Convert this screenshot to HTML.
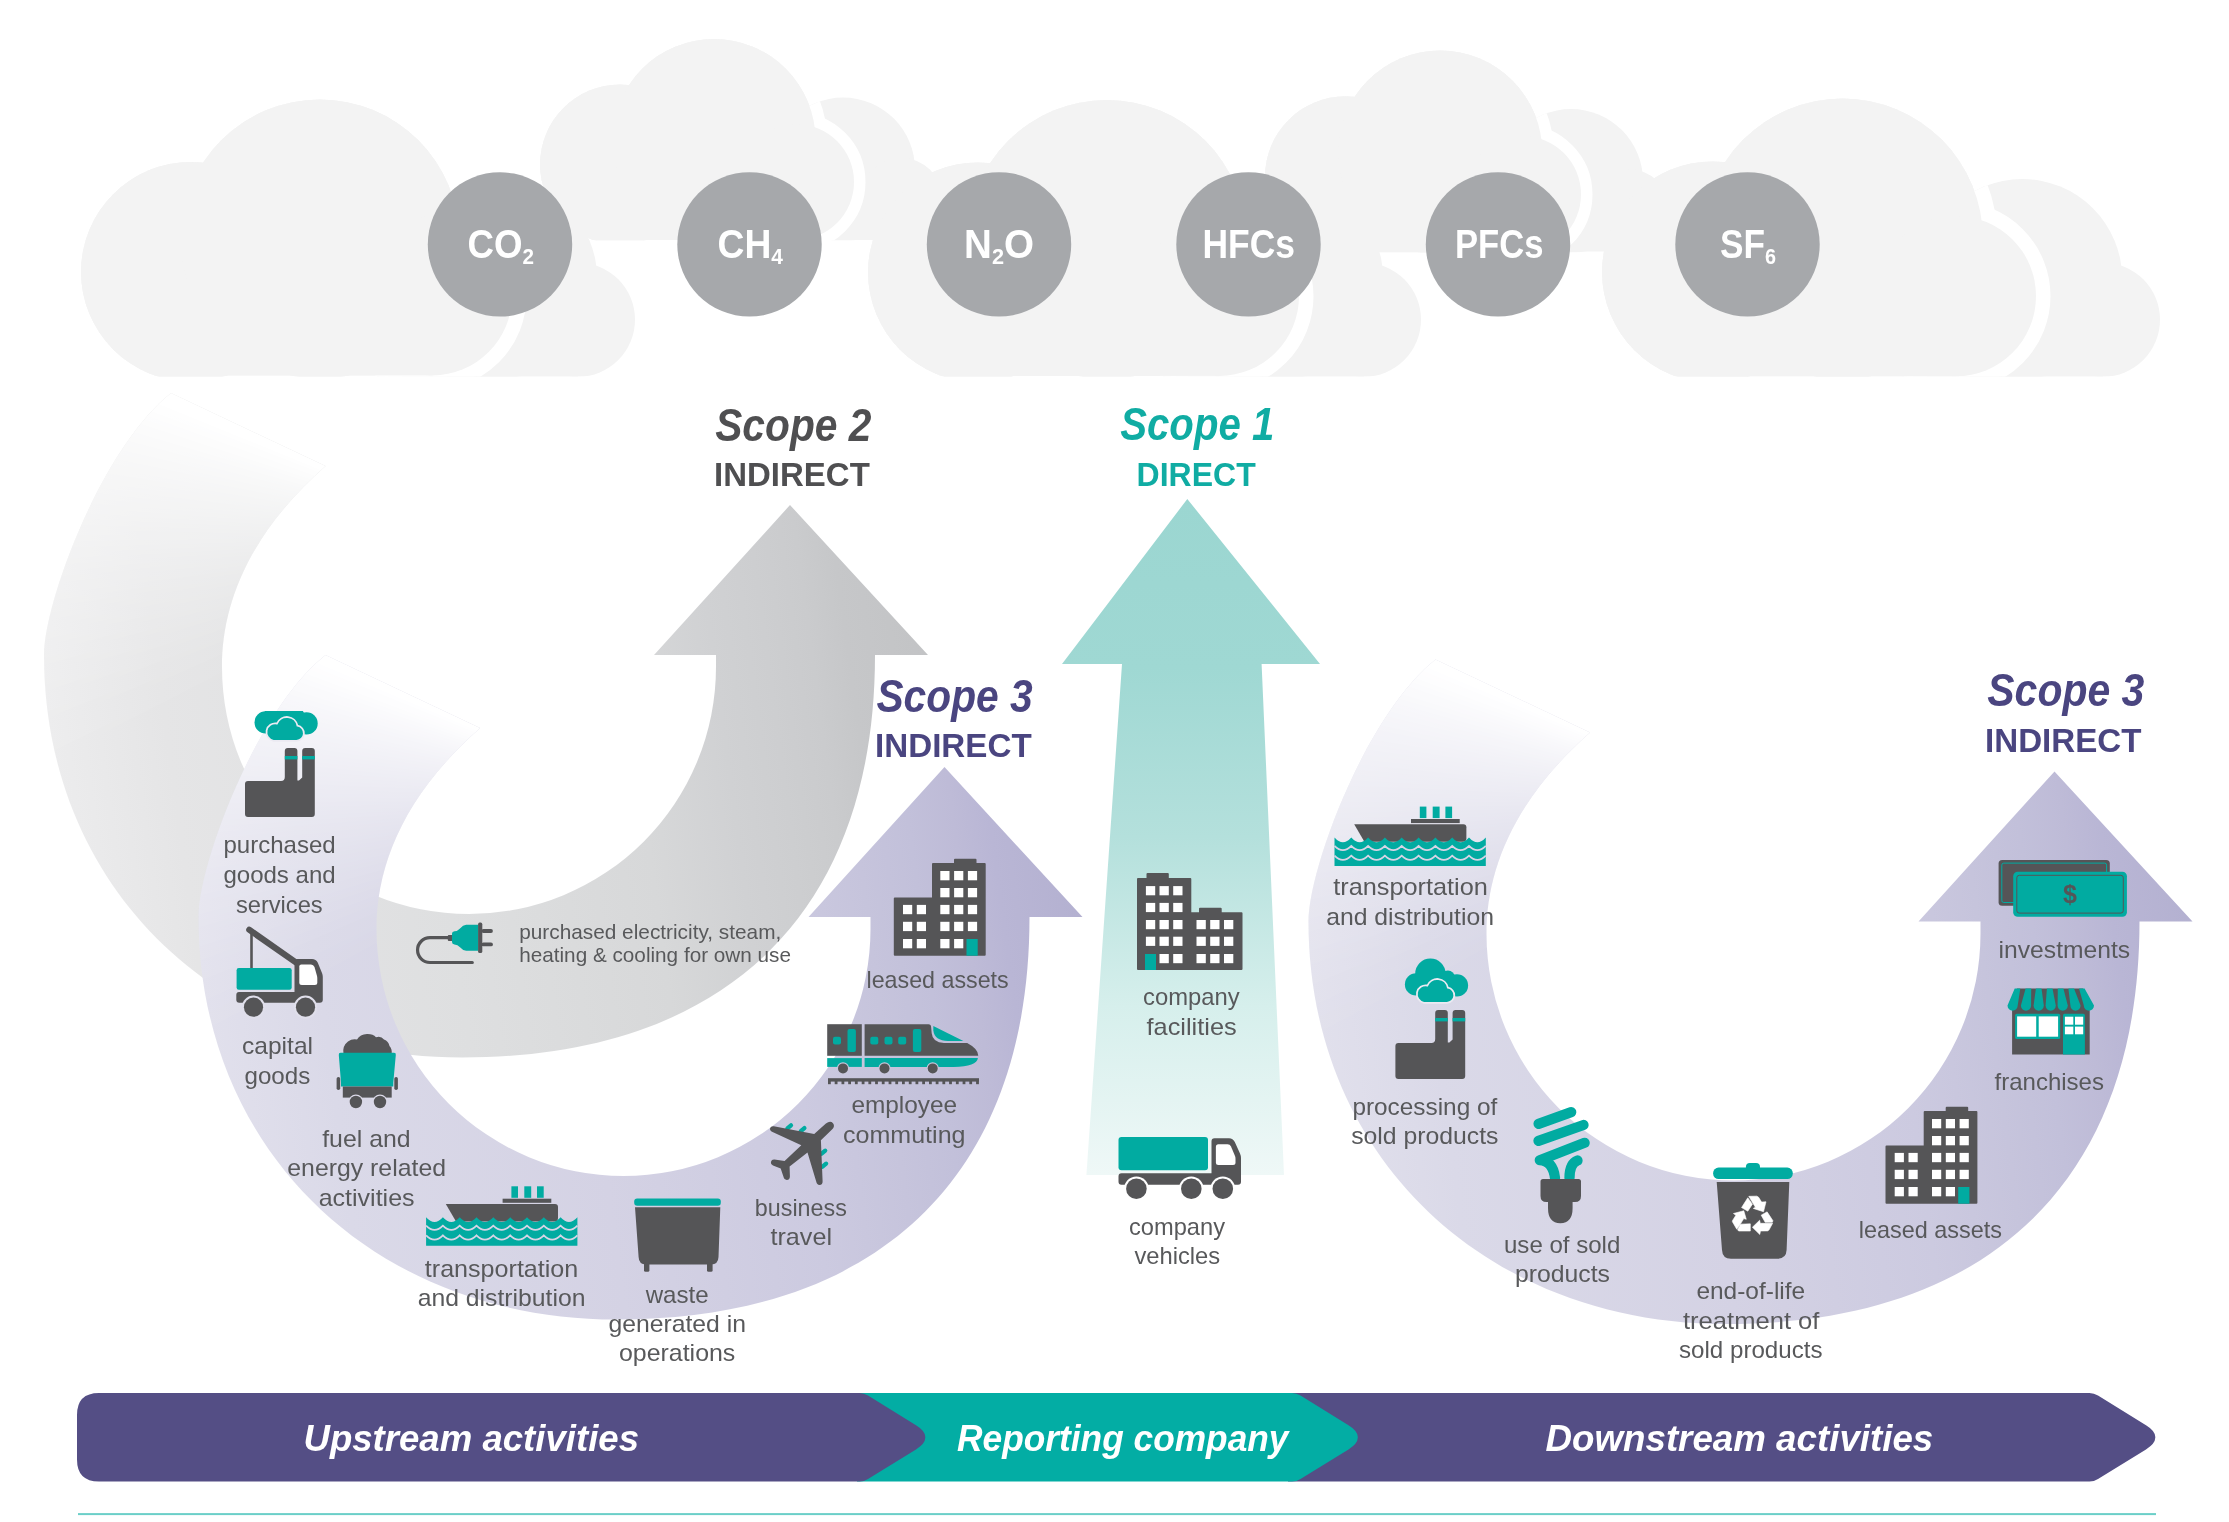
<!DOCTYPE html>
<html><head><meta charset="utf-8"><title>GHG Protocol scopes</title>
<style>html,body{margin:0;padding:0;background:#fff}svg{display:block;will-change:transform;opacity:0.9999}text{font-family:"Liberation Sans",sans-serif}</style></head><body>
<svg width="2229" height="1522" viewBox="0 0 2229 1522">
<defs><linearGradient id="gGray" gradientUnits="userSpaceOnUse" x1="45" y1="700" x2="928" y2="580"><stop offset="0" stop-color="#ececed"/><stop offset="0.13" stop-color="#e5e5e6"/><stop offset="0.42" stop-color="#dedfe0"/><stop offset="0.65" stop-color="#d7d8d9"/><stop offset="0.75" stop-color="#d0d1d3"/><stop offset="0.81" stop-color="#cdced0"/><stop offset="0.86" stop-color="#cacbcd"/><stop offset="0.9" stop-color="#c6c7c9"/><stop offset="1" stop-color="#c2c3c5"/></linearGradient><linearGradient id="gPurp" gradientUnits="userSpaceOnUse" x1="45" y1="700" x2="928" y2="580"><stop offset="0" stop-color="#e1e0ec"/><stop offset="0.13" stop-color="#dad9e8"/><stop offset="0.42" stop-color="#d4d2e4"/><stop offset="0.65" stop-color="#cccae0"/><stop offset="0.75" stop-color="#c6c4dc"/><stop offset="0.81" stop-color="#c2c0da"/><stop offset="0.86" stop-color="#bebbd7"/><stop offset="0.9" stop-color="#b9b6d5"/><stop offset="1" stop-color="#b3b0d0"/></linearGradient><path id="arc" d="M654 655 L790 505 L928 655 L875 655 C875.0 912.6 726.3 1057.5 462.0 1057.5 C220.0 1057.5 44.0 888.0 44.0 655.0 C44 603 100.7 449 171 393 L325.6 466 C250.4 532.4 222 602 222 667 A247 247 0 0 0 469 914 A247 247 0 0 0 716 667 L716 655 Z"/><clipPath id="cArc"><use href="#arc"/></clipPath><g id="fade" fill="#fff" opacity="0.999" style="isolation:isolate"><polygon points="484.0,537.0 -29.1,847.9 -82.6,734.5 -111.3,612.3 -113.9,486.9 -90.4,363.7 -41.9,248.1 29.7,145.1 121.1,59.2 228.4,-5.8 278.8,-26.8" fill-opacity="0.0076"/><polygon points="484.0,537.0 -33.4,840.9 -85.2,726.7 -112.2,604.2 -113.2,478.7 -88.0,355.9 -37.8,240.9 35.1,138.9 127.7,54.2 235.9,-9.3 278.8,-26.8" fill-opacity="0.0093"/><polygon points="484.0,537.0 -37.5,833.8 -87.8,718.8 -113.1,596.0 -112.3,470.6 -85.5,348.0 -33.7,233.8 40.6,132.8 134.4,49.4 243.4,-12.6 278.8,-26.8" fill-opacity="0.0101"/><polygon points="484.0,537.0 -41.5,826.6 -90.2,711.0 -113.8,587.8 -111.3,462.4 -82.8,340.2 -29.5,226.7 46.2,126.7 141.1,44.7 250.9,-15.9 278.8,-26.8" fill-opacity="0.0108"/><polygon points="484.0,537.0 -45.4,819.3 -92.6,703.1 -114.5,579.6 -110.3,454.2 -80.1,332.5 -25.2,219.7 51.9,120.7 147.9,40.0 258.5,-19.0 278.8,-26.8" fill-opacity="0.0113"/><polygon points="484.0,537.0 -49.2,812.1 -94.8,695.2 -115.0,571.4 -109.1,446.1 -77.2,324.8 -20.8,212.7 57.6,114.9 154.7,35.4 266.2,-22.1 278.8,-26.8" fill-opacity="0.0118"/><polygon points="484.0,537.0 -53.0,804.7 -96.9,687.2 -115.4,563.2 -107.8,438.0 -74.3,317.1 -16.3,205.8 63.5,109.0 161.6,31.0 273.9,-25.0 278.8,-26.8" fill-opacity="0.0122"/><polygon points="484.0,537.0 -56.6,797.3 -98.9,679.2 -115.7,554.9 -106.4,429.9 -71.2,309.5 -11.7,199.0 69.4,103.3 168.6,26.6 278.8,-26.8" fill-opacity="0.0126"/><polygon points="484.0,537.0 -60.1,789.9 -100.8,671.2 -115.9,546.7 -104.8,421.8 -68.0,301.9 -7.1,192.2 75.3,97.7 175.6,22.3 278.8,-26.8" fill-opacity="0.0131"/><polygon points="484.0,537.0 -63.5,782.4 -102.6,663.2 -116.0,538.5 -103.2,413.7 -64.7,294.3 -2.3,185.5 81.4,92.1 182.7,18.1 278.8,-26.8" fill-opacity="0.0134"/><polygon points="484.0,537.0 -66.8,774.9 -104.3,655.2 -116.0,530.3 -101.5,405.7 -61.4,286.8 2.6,178.9 87.5,86.6 189.8,14.1 278.8,-26.8" fill-opacity="0.0138"/><polygon points="484.0,537.0 -70.0,767.3 -105.8,647.1 -115.8,522.0 -99.6,397.7 -57.9,279.4 7.5,172.3 93.8,81.2 197.0,10.1 278.8,-26.8" fill-opacity="0.0142"/><polygon points="484.0,537.0 -73.1,759.7 -107.3,639.0 -115.6,513.8 -97.6,389.7 -54.3,272.0 12.6,165.8 100.0,75.9 204.3,6.2 278.8,-26.8" fill-opacity="0.0146"/><polygon points="484.0,537.0 -76.1,752.0 -108.6,630.9 -115.2,505.6 -95.6,381.7 -50.6,264.6 17.7,159.4 106.4,70.7 211.6,2.4 278.8,-26.8" fill-opacity="0.0150"/><polygon points="484.0,537.0 -79.0,744.3 -109.8,622.7 -114.7,497.4 -93.4,373.8 -46.8,257.3 22.9,153.0 112.8,65.6 219.0,-1.3 278.8,-26.8" fill-opacity="0.0154"/><polygon points="484.0,537.0 -81.8,736.6 -111.0,614.6 -114.1,489.2 -91.1,365.9 -42.9,250.0 28.2,146.8 119.3,60.5 226.4,-4.9 278.8,-26.8" fill-opacity="0.0158"/><polygon points="484.0,537.0 -84.5,728.8 -112.0,606.4 -113.4,481.0 -88.7,358.0 -38.9,242.8 33.6,140.5 125.9,55.6 233.8,-8.4 278.8,-26.8" fill-opacity="0.0162"/><polygon points="484.0,537.0 -87.1,721.0 -112.9,598.2 -112.6,472.8 -86.2,350.2 -34.9,235.7 39.1,134.4 132.5,50.7 241.3,-11.7 278.8,-26.8" fill-opacity="0.0166"/><polygon points="484.0,537.0 -89.6,713.1 -113.7,590.0 -111.6,464.6 -83.6,342.4 -30.7,228.6 44.7,128.3 139.2,45.9 248.9,-15.0 278.8,-26.8" fill-opacity="0.0170"/><polygon points="484.0,537.0 -91.9,705.3 -114.3,581.8 -110.6,456.5 -80.8,334.6 -26.4,221.6 50.3,122.4 146.0,41.3 256.5,-18.2 278.8,-26.8" fill-opacity="0.0175"/><polygon points="484.0,537.0 -94.2,697.3 -114.9,573.6 -109.4,448.3 -78.0,326.9 -22.0,214.6 56.0,116.5 152.8,36.7 264.1,-21.3 278.8,-26.8" fill-opacity="0.0179"/><polygon points="484.0,537.0 -96.3,689.4 -115.3,565.4 -108.1,440.2 -75.1,319.2 -17.6,207.7 61.9,110.6 159.7,32.2 271.8,-24.2 278.8,-26.8" fill-opacity="0.0184"/><polygon points="484.0,537.0 -98.4,681.4 -115.7,557.2 -106.8,432.1 -72.0,311.5 -13.0,200.9 67.7,104.9 166.7,27.8 278.8,-26.8" fill-opacity="0.0188"/><polygon points="484.0,537.0 -100.3,673.4 -115.9,549.0 -105.3,424.0 -68.9,303.9 -8.3,194.1 73.7,99.2 173.7,23.5 278.8,-26.8" fill-opacity="0.0193"/><polygon points="484.0,537.0 -102.1,665.4 -116.0,540.7 -103.7,415.9 -65.6,296.4 -3.6,187.4 79.8,93.6 180.8,19.3 278.8,-26.8" fill-opacity="0.0198"/><polygon points="484.0,537.0 -103.8,657.4 -116.0,532.5 -101.9,407.9 -62.3,288.9 1.2,180.7 85.9,88.1 187.9,15.2 278.8,-26.8" fill-opacity="0.0203"/><polygon points="484.0,537.0 -105.4,649.3 -115.9,524.3 -100.1,399.8 -58.8,281.4 6.2,174.1 92.1,82.7 195.1,11.1 278.8,-26.8" fill-opacity="0.0209"/><polygon points="484.0,537.0 -106.9,641.2 -115.6,516.1 -98.2,391.8 -55.3,274.0 11.2,167.6 98.3,77.4 202.3,7.2 278.8,-26.8" fill-opacity="0.0215"/><polygon points="484.0,537.0 -108.3,633.1 -115.3,507.8 -96.1,383.9 -51.6,266.6 16.3,161.2 104.7,72.1 209.6,3.4 278.8,-26.8" fill-opacity="0.0220"/><polygon points="484.0,537.0 -109.5,624.9 -114.8,499.6 -94.0,375.9 -47.9,259.3 21.5,154.8 111.1,67.0 217.0,-0.3 278.8,-26.8" fill-opacity="0.0227"/><polygon points="484.0,537.0 -110.7,616.8 -114.3,491.4 -91.7,368.0 -44.0,252.0 26.8,148.5 117.6,61.9 224.3,-3.9 278.8,-26.8" fill-opacity="0.0233"/><polygon points="484.0,537.0 -111.7,608.6 -113.6,483.2 -89.3,360.1 -40.0,244.8 32.2,142.2 124.1,56.9 231.8,-7.4 278.8,-26.8" fill-opacity="0.0240"/><polygon points="484.0,537.0 -112.6,600.5 -112.8,475.0 -86.9,352.3 -36.0,237.6 37.6,136.1 130.7,52.0 239.3,-10.8 278.8,-26.8" fill-opacity="0.0247"/><polygon points="484.0,537.0 -113.4,592.3 -111.9,466.8 -84.3,344.5 -31.8,230.5 43.2,130.0 137.4,47.2 246.8,-14.1 278.8,-26.8" fill-opacity="0.0254"/><polygon points="484.0,537.0 -114.2,584.1 -110.9,458.7 -81.6,336.7 -27.6,223.5 48.8,124.0 144.2,42.5 254.4,-17.3 278.8,-26.8" fill-opacity="0.0262"/><polygon points="484.0,537.0 -114.7,575.9 -109.7,450.5 -78.8,329.0 -23.2,216.5 54.5,118.1 151.0,37.9 262.0,-20.4 278.8,-26.8" fill-opacity="0.0270"/><polygon points="484.0,537.0 -115.2,567.7 -108.5,442.4 -75.9,321.3 -18.8,209.6 60.3,112.2 157.8,33.4 269.7,-23.4 278.8,-26.8" fill-opacity="0.0279"/><polygon points="484.0,537.0 -115.6,559.4 -107.1,434.3 -72.9,313.6 -14.3,202.7 66.1,106.4 164.8,29.0 277.4,-26.3 278.8,-26.8" fill-opacity="0.0288"/><polygon points="484.0,537.0 -115.8,551.2 -105.7,426.2 -69.8,306.0 -9.6,195.9 72.1,100.7 171.8,24.6 278.8,-26.8" fill-opacity="0.0298"/><polygon points="484.0,537.0 -116.0,543.0 -104.1,418.1 -66.5,298.4 -4.9,189.2 78.1,95.1 178.8,20.4 278.8,-26.8" fill-opacity="0.0308"/><polygon points="484.0,537.0 -116.0,534.8 -102.4,410.1 -63.2,290.9 -0.1,182.5 84.2,89.6 185.9,16.3 278.8,-26.8" fill-opacity="0.0319"/><polygon points="484.0,537.0 -115.9,526.5 -100.6,402.0 -59.8,283.4 4.8,175.9 90.4,84.2 193.1,12.2 278.8,-26.8" fill-opacity="0.0331"/><polygon points="484.0,537.0 -115.7,518.3 -98.7,394.0 -56.3,276.0 9.8,169.4 96.6,78.8 200.3,8.3 278.8,-26.8" fill-opacity="0.0343"/><polygon points="484.0,537.0 -115.4,510.1 -96.7,386.0 -52.6,268.6 14.9,162.9 102.9,73.5 207.6,4.4 278.8,-26.8" fill-opacity="0.0357"/><polygon points="484.0,537.0 -115.0,501.9 -94.6,378.1 -48.9,261.3 20.1,156.5 109.3,68.4 214.9,0.7 278.8,-26.8" fill-opacity="0.0371"/><polygon points="484.0,537.0 -114.4,493.7 -92.3,370.2 -45.1,254.0 25.3,150.2 115.8,63.3 222.3,-2.9 278.8,-26.8" fill-opacity="0.0387"/><polygon points="484.0,537.0 -113.8,485.5 -90.0,362.3 -41.1,246.8 30.7,143.9 122.3,58.3 229.8,-6.5 278.8,-26.8" fill-opacity="0.0403"/><polygon points="484.0,537.0 -113.0,477.3 -87.6,354.4 -37.1,239.6 36.1,137.8 128.9,53.4 237.2,-9.9 278.8,-26.8" fill-opacity="0.0422"/><polygon points="484.0,537.0 -112.1,469.1 -85.0,346.6 -33.0,232.5 41.6,131.6 135.6,48.5 244.8,-13.2 278.8,-26.8" fill-opacity="0.0442"/><polygon points="484.0,537.0 -111.2,460.9 -82.3,338.8 -28.8,225.4 47.2,125.6 142.3,43.8 252.3,-16.5 278.8,-26.8" fill-opacity="0.0464"/><polygon points="484.0,537.0 -110.1,452.8 -79.6,331.1 -24.4,218.4 52.9,119.7 149.1,39.2 259.9,-19.6 278.8,-26.8" fill-opacity="0.0488"/><polygon points="484.0,537.0 -108.8,444.6 -76.7,323.4 -20.0,211.5 58.7,113.8 156.0,34.6 267.6,-22.6 278.8,-26.8" fill-opacity="0.0514"/><polygon points="484.0,537.0 -107.5,436.5 -73.7,315.7 -15.5,204.6 64.5,108.0 162.9,30.2 275.3,-25.5 278.8,-26.8" fill-opacity="0.0543"/><polygon points="484.0,537.0 -106.1,428.4 -70.6,308.1 -10.9,197.8 70.4,102.3 169.9,25.8 278.8,-26.8" fill-opacity="0.0576"/><polygon points="484.0,537.0 -104.5,420.3 -67.4,300.5 -6.2,191.0 76.4,96.7 176.9,21.5 278.8,-26.8" fill-opacity="0.0613"/><polygon points="484.0,537.0 -102.9,412.3 -64.1,293.0 -1.4,184.3 82.5,91.1 184.0,17.4 278.8,-26.8" fill-opacity="0.0655"/><polygon points="484.0,537.0 -101.1,404.2 -60.7,285.5 3.5,177.7 88.7,85.6 191.2,13.3 278.8,-26.8" fill-opacity="0.0703"/><polygon points="484.0,537.0 -99.2,396.2 -57.2,278.0 8.4,171.1 94.9,80.3 198.4,9.4 278.8,-26.8" fill-opacity="0.0758"/><polygon points="484.0,537.0 -97.3,388.2 -53.6,270.6 13.5,164.7 101.2,75.0 205.6,5.5 278.8,-26.8" fill-opacity="0.0822"/><polygon points="484.0,537.0 -95.2,380.3 -49.9,263.3 18.7,158.2 107.6,69.8 212.9,1.7 278.8,-26.8" fill-opacity="0.0898"/><polygon points="484.0,537.0 -93.0,372.3 -46.1,256.0 23.9,151.9 114.0,64.7 220.3,-1.9 278.8,-26.8" fill-opacity="0.0989"/><polygon points="484.0,537.0 -90.7,364.4 -42.2,248.7 29.2,145.6 120.5,59.6 227.7,-5.5 278.8,-26.8" fill-opacity="0.1101"/><polygon points="484.0,537.0 -88.2,356.6 -38.2,241.5 34.6,139.4 127.1,54.7 235.2,-9.0 278.8,-26.8" fill-opacity="0.1240"/><polygon points="484.0,537.0 -85.7,348.7 -34.1,234.4 40.1,133.3 133.8,49.8 242.7,-12.3 278.8,-26.8" fill-opacity="0.1419"/><polygon points="484.0,537.0 -83.1,341.0 -29.9,227.3 45.7,127.3 140.5,45.1 250.3,-15.6 278.8,-26.8" fill-opacity="0.1657"/><polygon points="484.0,537.0 -80.3,333.2 -25.6,220.3 51.4,121.3 147.2,40.4 257.8,-18.7 278.8,-26.8" fill-opacity="0.1991"/><polygon points="484.0,537.0 -77.5,325.5 -21.2,213.4 57.1,115.4 154.1,35.8 265.5,-21.8 278.8,-26.8" fill-opacity="0.2492"/><polygon points="484.0,537.0 -74.5,317.8 -16.7,206.5 62.9,109.6 161.0,31.4 273.2,-24.7 278.8,-26.8" fill-opacity="0.3326"/><polygon points="484.0,537.0 -71.5,310.2 -12.2,199.6 68.8,103.8 168.0,27.0 278.8,-26.8" fill-opacity="0.4995"/><polygon points="484.0,537.0 -68.3,302.6 -7.5,192.9 74.8,98.2 175.0,22.7 278.8,-26.8" fill-opacity="1.0000"/></g><linearGradient id="gTeal" gradientUnits="userSpaceOnUse" x1="0" y1="499" x2="0" y2="1175"><stop offset="0" stop-color="#9bd6d1"/><stop offset="0.25" stop-color="#9fd8d3"/><stop offset="0.5" stop-color="#b4e0dc"/><stop offset="0.75" stop-color="#d6efec"/><stop offset="1" stop-color="#eff8f7"/></linearGradient></defs>
<rect width="2229" height="1522" fill="#fff"/>
<g id="clouds"><defs><clipPath id="cb0"><circle cx="404.7" cy="302.5" r="78.7"/><circle cx="497.2" cy="279.0" r="100.0"/><circle cx="577.9" cy="319.7" r="57.1"/><rect x="402.3" y="287.2" width="175.7" height="89.6"/></clipPath><clipPath id="cbot0"><rect x="0" y="0" width="2229" height="376.5"/></clipPath><clipPath id="cb1"><circle cx="1190.7" cy="302.5" r="78.7"/><circle cx="1283.2" cy="279.0" r="100.0"/><circle cx="1363.9" cy="319.7" r="57.1"/><rect x="1188.3" y="287.2" width="175.7" height="89.6"/></clipPath><clipPath id="cbot1"><rect x="0" y="0" width="2229" height="376.5"/></clipPath><clipPath id="cb2"><circle cx="1929.7" cy="302.5" r="78.7"/><circle cx="2022.2" cy="279.0" r="100.0"/><circle cx="2102.9" cy="319.7" r="57.1"/><rect x="1927.3" y="287.2" width="175.7" height="89.6"/></clipPath><clipPath id="cbot2"><rect x="0" y="0" width="2229" height="376.5"/></clipPath><clipPath id="cb3"><circle cx="776.3" cy="186.5" r="56.7"/><circle cx="843.0" cy="169.5" r="72.0"/><circle cx="901.1" cy="198.9" r="41.1"/><rect x="774.5" y="175.5" width="126.5" height="64.5"/></clipPath><clipPath id="cbot3"><rect x="0" y="0" width="2229" height="240.3"/></clipPath><clipPath id="cb4"><circle cx="1504.3" cy="198.0" r="56.7"/><circle cx="1571.0" cy="181.0" r="72.0"/><circle cx="1629.1" cy="210.4" r="41.1"/><rect x="1502.5" y="187.0" width="126.5" height="64.5"/></clipPath><clipPath id="cbot4"><rect x="0" y="0" width="2229" height="252.3"/></clipPath></defs><g clip-path="url(#cbot0)" fill="#f3f3f3"><circle cx="404.7" cy="302.5" r="78.7"/><circle cx="497.2" cy="279.0" r="100.0"/><circle cx="577.9" cy="319.7" r="57.1"/><rect x="402.3" y="287.2" width="175.7" height="89.6"/><circle cx="190.8" cy="271.8" r="109.8"/><circle cx="319.8" cy="239.0" r="139.5"/><circle cx="432.4" cy="295.8" r="79.6"/><rect x="187.4" y="250.5" width="245.0" height="124.9"/></g><g clip-path="url(#cbot1)" fill="#f3f3f3"><circle cx="1190.7" cy="302.5" r="78.7"/><circle cx="1283.2" cy="279.0" r="100.0"/><circle cx="1363.9" cy="319.7" r="57.1"/><rect x="1188.3" y="287.2" width="175.7" height="89.6"/><circle cx="977.8" cy="272.3" r="109.8"/><circle cx="1106.8" cy="239.5" r="139.5"/><circle cx="1219.4" cy="296.3" r="79.6"/><rect x="974.4" y="251.0" width="245.0" height="124.9"/></g><g clip-path="url(#cbot2)" fill="#f3f3f3"><circle cx="1929.7" cy="302.5" r="78.7"/><circle cx="2022.2" cy="279.0" r="100.0"/><circle cx="2102.9" cy="319.7" r="57.1"/><rect x="1927.3" y="287.2" width="175.7" height="89.6"/><circle cx="1712.6" cy="272.0" r="110.6"/><circle cx="1842.5" cy="238.9" r="140.4"/><circle cx="1955.8" cy="296.1" r="80.2"/><rect x="1709.1" y="250.5" width="246.7" height="125.8"/></g><g clip-path="url(#cbot3)" fill="#f3f3f3"><circle cx="776.3" cy="186.5" r="56.7"/><circle cx="843.0" cy="169.5" r="72.0"/><circle cx="901.1" cy="198.9" r="41.1"/><rect x="774.5" y="175.5" width="126.5" height="64.5"/><circle cx="620.0" cy="164.5" r="80.0"/><circle cx="714.0" cy="140.6" r="101.6"/><circle cx="796.0" cy="182.0" r="58.0"/><rect x="617.5" y="149.0" width="178.5" height="91.0"/></g><g clip-path="url(#cbot4)" fill="#f3f3f3"><circle cx="1504.3" cy="198.0" r="56.7"/><circle cx="1571.0" cy="181.0" r="72.0"/><circle cx="1629.1" cy="210.4" r="41.1"/><rect x="1502.5" y="187.0" width="126.5" height="64.5"/><circle cx="1345.5" cy="176.8" r="80.5"/><circle cx="1440.1" cy="152.7" r="102.2"/><circle cx="1522.6" cy="194.4" r="58.4"/><rect x="1343.0" y="161.2" width="179.6" height="91.6"/></g><g clip-path="url(#cbot0)"><g clip-path="url(#cb0)" fill="#fff" stroke="#fff" stroke-width="29"><circle cx="190.8" cy="271.8" r="109.8"/><circle cx="319.8" cy="239.0" r="139.5"/><circle cx="432.4" cy="295.8" r="79.6"/><rect x="187.4" y="250.5" width="245.0" height="124.9"/></g><g fill="#f3f3f3"><circle cx="190.8" cy="271.8" r="109.8"/><circle cx="319.8" cy="239.0" r="139.5"/><circle cx="432.4" cy="295.8" r="79.6"/><rect x="187.4" y="250.5" width="245.0" height="124.9"/></g></g><g clip-path="url(#cbot1)"><g clip-path="url(#cb1)" fill="#fff" stroke="#fff" stroke-width="29"><circle cx="977.8" cy="272.3" r="109.8"/><circle cx="1106.8" cy="239.5" r="139.5"/><circle cx="1219.4" cy="296.3" r="79.6"/><rect x="974.4" y="251.0" width="245.0" height="124.9"/></g><g fill="#f3f3f3"><circle cx="977.8" cy="272.3" r="109.8"/><circle cx="1106.8" cy="239.5" r="139.5"/><circle cx="1219.4" cy="296.3" r="79.6"/><rect x="974.4" y="251.0" width="245.0" height="124.9"/></g></g><g clip-path="url(#cbot2)"><g clip-path="url(#cb2)" fill="#fff" stroke="#fff" stroke-width="29"><circle cx="1712.6" cy="272.0" r="110.6"/><circle cx="1842.5" cy="238.9" r="140.4"/><circle cx="1955.8" cy="296.1" r="80.2"/><rect x="1709.1" y="250.5" width="246.7" height="125.8"/></g><g fill="#f3f3f3"><circle cx="1712.6" cy="272.0" r="110.6"/><circle cx="1842.5" cy="238.9" r="140.4"/><circle cx="1955.8" cy="296.1" r="80.2"/><rect x="1709.1" y="250.5" width="246.7" height="125.8"/></g></g><g clip-path="url(#cbot3)"><g clip-path="url(#cb3)" fill="#fff" stroke="#fff" stroke-width="23"><circle cx="620.0" cy="164.5" r="80.0"/><circle cx="714.0" cy="140.6" r="101.6"/><circle cx="796.0" cy="182.0" r="58.0"/><rect x="617.5" y="149.0" width="178.5" height="91.0"/></g><g fill="#f3f3f3"><circle cx="620.0" cy="164.5" r="80.0"/><circle cx="714.0" cy="140.6" r="101.6"/><circle cx="796.0" cy="182.0" r="58.0"/><rect x="617.5" y="149.0" width="178.5" height="91.0"/></g></g><g clip-path="url(#cbot4)"><g clip-path="url(#cb4)" fill="#fff" stroke="#fff" stroke-width="23"><circle cx="1345.5" cy="176.8" r="80.5"/><circle cx="1440.1" cy="152.7" r="102.2"/><circle cx="1522.6" cy="194.4" r="58.4"/><rect x="1343.0" y="161.2" width="179.6" height="91.6"/></g><g fill="#f3f3f3"><circle cx="1345.5" cy="176.8" r="80.5"/><circle cx="1440.1" cy="152.7" r="102.2"/><circle cx="1522.6" cy="194.4" r="58.4"/><rect x="1343.0" y="161.2" width="179.6" height="91.6"/></g></g></g>
<circle cx="500" cy="244.4" r="72.2" fill="#a6a8ab"/>
<circle cx="749.5" cy="244.4" r="72.2" fill="#a6a8ab"/>
<circle cx="999" cy="244.4" r="72.2" fill="#a6a8ab"/>
<circle cx="1248.5" cy="244.4" r="72.2" fill="#a6a8ab"/>
<circle cx="1498" cy="244.4" r="72.2" fill="#a6a8ab"/>
<circle cx="1747.5" cy="244.4" r="72.2" fill="#a6a8ab"/>
<g transform="translate(0 0)"><use href="#arc" fill="url(#gGray)"/><g clip-path="url(#cArc)"><use href="#fade"/></g></g>
<g transform="translate(154.5 262)"><use href="#arc" fill="url(#gPurp)"/><g clip-path="url(#cArc)"><use href="#fade"/></g></g>
<g transform="translate(1264.5 266.5)"><use href="#arc" fill="url(#gPurp)"/><g clip-path="url(#cArc)"><use href="#fade"/></g></g>
<path d="M1187.3 499 L1320 664 L1261.6 664 L1284 1175 L1086.4 1175 L1122 664 L1062 664 Z" fill="url(#gTeal)"/>
<path d="M1288 1393 L2089.5 1393 Q2094.0 1393 2098.0 1395.5 L2146.0 1425.2 Q2155.5 1431 2155.3 1437.3 Q2155.5 1443.6 2146.0 1449.4 L2098.0 1479.1 Q2094.0 1481.6 2089.5 1481.6 L1288 1481.6 Z" fill="#544e85"/>
<path d="M857 1393 L1292.0 1393 Q1296.5 1393 1300.5 1395.5 L1348.5 1425.2 Q1358.0 1431 1357.8 1437.3 Q1358.0 1443.6 1348.5 1449.4 L1300.5 1479.1 Q1296.5 1481.6 1292.0 1481.6 L857 1481.6 Z" fill="#03ada4"/>
<path d="M99 1393 L859.5 1393 Q864.0 1393 868.0 1395.5 L916.0 1425.2 Q925.5 1431 925.3 1437.3 Q925.5 1443.6 916.0 1449.4 L868.0 1479.1 Q864.0 1481.6 859.5 1481.6 L99 1481.6 Q77 1481.6 77 1459.6 L77 1415 Q77 1393 99 1393 Z" fill="#544e85"/>
<rect x="78" y="1513.1" width="2078" height="2" fill="#6bcfc8"/>
<g id="texts" opacity="0.999">
<text x="467.5" y="258.2" font-size="40" font-weight="bold" fill="#fff" textLength="66.5" lengthAdjust="spacingAndGlyphs"><tspan dy="0.0">CO</tspan><tspan font-size="22.5" dy="6.2">2</tspan></text>
<text x="717.5" y="258.2" font-size="40" font-weight="bold" fill="#fff" textLength="65.5" lengthAdjust="spacingAndGlyphs"><tspan dy="0.0">CH</tspan><tspan font-size="22.5" dy="6.2">4</tspan></text>
<text x="964" y="258.2" font-size="40" font-weight="bold" fill="#fff" textLength="70.0" lengthAdjust="spacingAndGlyphs"><tspan dy="0.0">N</tspan><tspan font-size="22.5" dy="6.2">2</tspan><tspan dy="-6.2">O</tspan></text>
<text x="1202.5" y="258.2" font-size="40" font-weight="bold" fill="#fff" textLength="92.5" lengthAdjust="spacingAndGlyphs"><tspan dy="0.0">HFCs</tspan></text>
<text x="1455" y="258.2" font-size="40" font-weight="bold" fill="#fff" textLength="88.5" lengthAdjust="spacingAndGlyphs"><tspan dy="0.0">PFCs</tspan></text>
<text x="1720" y="258.2" font-size="40" font-weight="bold" fill="#fff" textLength="56.0" lengthAdjust="spacingAndGlyphs"><tspan dy="0.0">SF</tspan><tspan font-size="22.5" dy="6.2">6</tspan></text>
<text x="715.2" y="441.0" font-size="45.5" text-anchor="start" fill="#4f4f51" font-weight="bold" font-style="italic" textLength="156.2" lengthAdjust="spacingAndGlyphs">Scope 2</text>
<text x="714.0" y="486.4" font-size="32.5" text-anchor="start" fill="#4f4f51" font-weight="bold" font-style="normal" textLength="155.8" lengthAdjust="spacingAndGlyphs">INDIRECT</text>
<text x="1120.2" y="440.1" font-size="45.5" text-anchor="start" fill="#10aca3" font-weight="bold" font-style="italic" textLength="154.1" lengthAdjust="spacingAndGlyphs">Scope 1</text>
<text x="1136.6" y="485.6" font-size="32.5" text-anchor="start" fill="#10aca3" font-weight="bold" font-style="normal" textLength="119.1" lengthAdjust="spacingAndGlyphs">DIRECT</text>
<text x="876.4" y="711.9" font-size="45.5" text-anchor="start" fill="#4a4580" font-weight="bold" font-style="italic" textLength="156.3" lengthAdjust="spacingAndGlyphs">Scope 3</text>
<text x="875.0" y="757.1" font-size="32.5" text-anchor="start" fill="#4a4580" font-weight="bold" font-style="normal" textLength="156.7" lengthAdjust="spacingAndGlyphs">INDIRECT</text>
<text x="1987.3" y="705.5" font-size="45.5" text-anchor="start" fill="#4a4580" font-weight="bold" font-style="italic" textLength="157.1" lengthAdjust="spacingAndGlyphs">Scope 3</text>
<text x="1985.0" y="752.4" font-size="32.5" text-anchor="start" fill="#4a4580" font-weight="bold" font-style="normal" textLength="156.5" lengthAdjust="spacingAndGlyphs">INDIRECT</text>
<text x="223.4" y="853.4" font-size="24" text-anchor="start" fill="#58595b" font-weight="normal" font-style="normal" textLength="112.3" lengthAdjust="spacingAndGlyphs">purchased</text>
<text x="223.4" y="883.3" font-size="24" text-anchor="start" fill="#58595b" font-weight="normal" font-style="normal" textLength="112.3" lengthAdjust="spacingAndGlyphs">goods and</text>
<text x="235.9" y="912.6" font-size="24" text-anchor="start" fill="#58595b" font-weight="normal" font-style="normal" textLength="86.8" lengthAdjust="spacingAndGlyphs">services</text>
<text x="242.0" y="1054.0" font-size="24" text-anchor="start" fill="#58595b" font-weight="normal" font-style="normal" textLength="71.0" lengthAdjust="spacingAndGlyphs">capital</text>
<text x="244.5" y="1084.0" font-size="24" text-anchor="start" fill="#58595b" font-weight="normal" font-style="normal" textLength="65.8" lengthAdjust="spacingAndGlyphs">goods</text>
<text x="322.2" y="1146.7" font-size="24" text-anchor="start" fill="#58595b" font-weight="normal" font-style="normal" textLength="88.4" lengthAdjust="spacingAndGlyphs">fuel and</text>
<text x="287.3" y="1175.9" font-size="24" text-anchor="start" fill="#58595b" font-weight="normal" font-style="normal" textLength="158.7" lengthAdjust="spacingAndGlyphs">energy related</text>
<text x="318.7" y="1205.6" font-size="24" text-anchor="start" fill="#58595b" font-weight="normal" font-style="normal" textLength="95.9" lengthAdjust="spacingAndGlyphs">activities</text>
<text x="424.8" y="1276.8" font-size="24" text-anchor="start" fill="#58595b" font-weight="normal" font-style="normal" textLength="153.5" lengthAdjust="spacingAndGlyphs">transportation</text>
<text x="417.7" y="1305.6" font-size="24" text-anchor="start" fill="#58595b" font-weight="normal" font-style="normal" textLength="167.7" lengthAdjust="spacingAndGlyphs">and distribution</text>
<text x="645.7" y="1302.5" font-size="24" text-anchor="start" fill="#58595b" font-weight="normal" font-style="normal" textLength="63.0" lengthAdjust="spacingAndGlyphs">waste</text>
<text x="608.5" y="1331.8" font-size="24" text-anchor="start" fill="#58595b" font-weight="normal" font-style="normal" textLength="137.5" lengthAdjust="spacingAndGlyphs">generated in</text>
<text x="619.0" y="1361.0" font-size="24" text-anchor="start" fill="#58595b" font-weight="normal" font-style="normal" textLength="116.3" lengthAdjust="spacingAndGlyphs">operations</text>
<text x="754.8" y="1216.3" font-size="24" text-anchor="start" fill="#58595b" font-weight="normal" font-style="normal" textLength="92.0" lengthAdjust="spacingAndGlyphs">business</text>
<text x="770.5" y="1245.3" font-size="24" text-anchor="start" fill="#58595b" font-weight="normal" font-style="normal" textLength="61.5" lengthAdjust="spacingAndGlyphs">travel</text>
<text x="851.4" y="1113.3" font-size="24" text-anchor="start" fill="#58595b" font-weight="normal" font-style="normal" textLength="105.8" lengthAdjust="spacingAndGlyphs">employee</text>
<text x="843.0" y="1143.0" font-size="24" text-anchor="start" fill="#58595b" font-weight="normal" font-style="normal" textLength="122.5" lengthAdjust="spacingAndGlyphs">commuting</text>
<text x="866.5" y="988.4" font-size="24" text-anchor="start" fill="#58595b" font-weight="normal" font-style="normal" textLength="142.2" lengthAdjust="spacingAndGlyphs">leased assets</text>
<text x="1143.0" y="1004.5" font-size="24" text-anchor="start" fill="#58595b" font-weight="normal" font-style="normal" textLength="96.6" lengthAdjust="spacingAndGlyphs">company</text>
<text x="1146.5" y="1035.0" font-size="24" text-anchor="start" fill="#58595b" font-weight="normal" font-style="normal" textLength="90.2" lengthAdjust="spacingAndGlyphs">facilities</text>
<text x="1129.0" y="1234.5" font-size="24" text-anchor="start" fill="#58595b" font-weight="normal" font-style="normal" textLength="96.0" lengthAdjust="spacingAndGlyphs">company</text>
<text x="1134.4" y="1264.0" font-size="24" text-anchor="start" fill="#58595b" font-weight="normal" font-style="normal" textLength="85.8" lengthAdjust="spacingAndGlyphs">vehicles</text>
<text x="1333.2" y="895.4" font-size="24" text-anchor="start" fill="#58595b" font-weight="normal" font-style="normal" textLength="154.6" lengthAdjust="spacingAndGlyphs">transportation</text>
<text x="1326.2" y="924.8" font-size="24" text-anchor="start" fill="#58595b" font-weight="normal" font-style="normal" textLength="167.8" lengthAdjust="spacingAndGlyphs">and distribution</text>
<text x="1352.4" y="1114.6" font-size="24" text-anchor="start" fill="#58595b" font-weight="normal" font-style="normal" textLength="144.9" lengthAdjust="spacingAndGlyphs">processing of</text>
<text x="1351.2" y="1144.0" font-size="24" text-anchor="start" fill="#58595b" font-weight="normal" font-style="normal" textLength="147.3" lengthAdjust="spacingAndGlyphs">sold products</text>
<text x="1504.0" y="1253.4" font-size="24" text-anchor="start" fill="#58595b" font-weight="normal" font-style="normal" textLength="116.3" lengthAdjust="spacingAndGlyphs">use of sold</text>
<text x="1515.0" y="1282.4" font-size="24" text-anchor="start" fill="#58595b" font-weight="normal" font-style="normal" textLength="95.0" lengthAdjust="spacingAndGlyphs">products</text>
<text x="1696.4" y="1299.0" font-size="24" text-anchor="start" fill="#58595b" font-weight="normal" font-style="normal" textLength="108.8" lengthAdjust="spacingAndGlyphs">end-of-life</text>
<text x="1683.0" y="1329.3" font-size="24" text-anchor="start" fill="#58595b" font-weight="normal" font-style="normal" textLength="136.4" lengthAdjust="spacingAndGlyphs">treatment of</text>
<text x="1679.0" y="1358.2" font-size="24" text-anchor="start" fill="#58595b" font-weight="normal" font-style="normal" textLength="143.5" lengthAdjust="spacingAndGlyphs">sold products</text>
<text x="1858.8" y="1238.0" font-size="24" text-anchor="start" fill="#58595b" font-weight="normal" font-style="normal" textLength="143.2" lengthAdjust="spacingAndGlyphs">leased assets</text>
<text x="1994.5" y="1090.2" font-size="24" text-anchor="start" fill="#58595b" font-weight="normal" font-style="normal" textLength="109.5" lengthAdjust="spacingAndGlyphs">franchises</text>
<text x="1998.6" y="957.8" font-size="24" text-anchor="start" fill="#58595b" font-weight="normal" font-style="normal" textLength="131.6" lengthAdjust="spacingAndGlyphs">investments</text>
<text x="519.2" y="939.0" font-size="20.8" text-anchor="start" fill="#58595b" font-weight="normal" font-style="normal" textLength="262.1" lengthAdjust="spacingAndGlyphs">purchased electricity, steam,</text>
<text x="519.2" y="961.5" font-size="20.8" text-anchor="start" fill="#58595b" font-weight="normal" font-style="normal" textLength="271.8" lengthAdjust="spacingAndGlyphs">heating &amp; cooling for own use</text>
<text x="303.5" y="1451.3" font-size="37.5" text-anchor="start" fill="#fff" font-weight="bold" font-style="italic" textLength="335.5" lengthAdjust="spacingAndGlyphs">Upstream activities</text>
<text x="957.0" y="1451.3" font-size="37.5" text-anchor="start" fill="#fff" font-weight="bold" font-style="italic" textLength="331.5" lengthAdjust="spacingAndGlyphs">Reporting company</text>
<text x="1545.5" y="1451.3" font-size="37.5" text-anchor="start" fill="#fff" font-weight="bold" font-style="italic" textLength="387.8" lengthAdjust="spacingAndGlyphs">Downstream activities</text>
</g>
<g id="icons"><defs><g id="factory"><path d="M248 781 H281 Q284.8 781 284.8 777 V751 Q284.8 748 287.8 748 H294.4 Q297.4 748 297.4 751 V780.5 L299 780.5 L302.2 777.5 V751 Q302.2 748 305.2 748 H311.8 Q314.8 748 314.8 751 V814 Q314.8 817 311.8 817 H248 Q245 817 245 814 V784 Q245 781 248 781 Z" fill="#555557"/><rect x="284.8" y="756.0" width="12.6" height="3.4" fill="#00aba1"/><rect x="302.2" y="756.0" width="12.6" height="3.4" fill="#00aba1"/></g><g id="smoke"><g fill="#00aba1"><circle cx="265.7" cy="722.4" r="11.2"/><circle cx="280" cy="711.8" r="15.2"/><circle cx="297.5" cy="715.5" r="7"/><circle cx="306.5" cy="723.4" r="11.2"/><rect x="265.7" y="716" width="40" height="17.6"/></g><path d="M273.5 740.8 H296.5 A7.6 7.6 0 0 0 297.5 725.7 A10.8 10.8 0 0 0 277 723.5 A8.7 8.7 0 0 0 273.5 740.8 Z" fill="#00aba1" stroke="#ebeaf2" stroke-width="1.8"/></g><clipPath id="cSmoke"><rect x="240" y="711" width="90" height="40"/></clipPath><g id="ship"><path d="M445.8 1204 H555 Q558 1204 558 1207 V1218 Q558 1221.5 554.5 1221.5 H456 Z" fill="#555557"/><rect x="502.6" y="1198.7" width="48.7" height="4.1" fill="#555557"/><rect x="511.4" y="1186.3" width="6.6" height="11.5" fill="#00aba1"/><rect x="524.3" y="1186.3" width="6.9" height="11.5" fill="#00aba1"/><rect x="537.0" y="1186.3" width="6.7" height="11.5" fill="#00aba1"/><path d="M426.1 1217.3 Q434.5 1226.8 442.9 1217.3 Q451.3 1226.8 459.7 1217.3 Q468.1 1226.8 476.5 1217.3 Q484.9 1226.8 493.3 1217.3 Q501.8 1226.8 510.2 1217.3 Q518.6 1226.8 527.0 1217.3 Q535.4 1226.8 543.8 1217.3 Q552.2 1226.8 560.6 1217.3 Q569.0 1226.8 577.4 1217.3 V1245.7 H426.1 Z" fill="#00aba1"/><path d="M426.1 1225.6 Q434.5 1234.1 442.9 1225.6 Q451.3 1234.1 459.7 1225.6 Q468.1 1234.1 476.5 1225.6 Q484.9 1234.1 493.3 1225.6 Q501.8 1234.1 510.2 1225.6 Q518.6 1234.1 527.0 1225.6 Q535.4 1234.1 543.8 1225.6 Q552.2 1234.1 560.6 1225.6 Q569.0 1234.1 577.4 1225.6" fill="none" stroke="#d6d4e5" stroke-width="1.7"/><path d="M426.1 1235.3 Q434.5 1243.8 442.9 1235.3 Q451.3 1243.8 459.7 1235.3 Q468.1 1243.8 476.5 1235.3 Q484.9 1243.8 493.3 1235.3 Q501.8 1243.8 510.2 1235.3 Q518.6 1243.8 527.0 1235.3 Q535.4 1243.8 543.8 1235.3 Q552.2 1243.8 560.6 1235.3 Q569.0 1243.8 577.4 1235.3" fill="none" stroke="#d6d4e5" stroke-width="1.7"/></g><g id="bldg"><path d="M932 864 Q932 863 933 863 H954 V859.7 Q954 858.7 955 858.7 H975.5 Q976.5 858.7 976.5 859.7 V863 H984.7 Q985.7 863 985.7 864 V954.7 Q985.7 955.7 984.7 955.7 H894.8 Q893.8 955.7 893.8 954.7 V898.4 Q893.8 897.4 894.8 897.4 H932 Z" fill="#555557"/><rect x="940.3" y="871.0" width="9.2" height="9.3" fill="#fff"/><rect x="954.1" y="871.0" width="9.2" height="9.3" fill="#fff"/><rect x="967.9" y="871.0" width="9.2" height="9.3" fill="#fff"/><rect x="940.3" y="888.0" width="9.2" height="9.3" fill="#fff"/><rect x="954.1" y="888.0" width="9.2" height="9.3" fill="#fff"/><rect x="967.9" y="888.0" width="9.2" height="9.3" fill="#fff"/><rect x="940.3" y="904.9" width="9.2" height="9.3" fill="#fff"/><rect x="954.1" y="904.9" width="9.2" height="9.3" fill="#fff"/><rect x="967.9" y="904.9" width="9.2" height="9.3" fill="#fff"/><rect x="940.3" y="921.8" width="9.2" height="9.3" fill="#fff"/><rect x="954.1" y="921.8" width="9.2" height="9.3" fill="#fff"/><rect x="967.9" y="921.8" width="9.2" height="9.3" fill="#fff"/><rect x="940.3" y="939.0" width="9.2" height="9.3" fill="#fff"/><rect x="954.1" y="939.0" width="9.2" height="9.3" fill="#fff"/><rect x="903.0" y="904.9" width="9.2" height="9.3" fill="#fff"/><rect x="916.8" y="904.9" width="9.2" height="9.3" fill="#fff"/><rect x="903.0" y="921.8" width="9.2" height="9.3" fill="#fff"/><rect x="916.8" y="921.8" width="9.2" height="9.3" fill="#fff"/><rect x="903.0" y="939.0" width="9.2" height="9.3" fill="#fff"/><rect x="916.8" y="939.0" width="9.2" height="9.3" fill="#fff"/><rect x="966.5" y="939.0" width="11.2" height="16.7" fill="#00aba1"/></g></defs><use href="#factory"/><g clip-path="url(#cSmoke)"><use href="#smoke"/></g><g transform="translate(1150.4 262)"><use href="#factory"/><use href="#smoke"/></g><line x1="249.3" y1="929.8" x2="296" y2="962.5" stroke="#555557" stroke-width="6.2" stroke-linecap="round"/><line x1="251.5" y1="932" x2="251.5" y2="969" stroke="#555557" stroke-width="2.6"/><path d="M239 992 H294.5 V962 Q294.5 959 297.5 959 H312 Q316 959 317.7 962.5 L322 973 Q322.8 975 322.8 977 V999.7 Q322.8 1002.7 319.8 1002.7 H239.3 Q236.3 1002.7 236.3 999.7 V995 Q236.3 992 239 992 Z" fill="#555557"/><path d="M301.3 964.5 H311 Q313.5 964.5 314.5 967 L317 976 Q317.3 977.2 317.3 978.5 V982.5 Q317.3 985 314.8 985 H301.8 Q299.3 985 299.3 982.5 V966.5 Q299.3 964.5 301.3 964.5 Z" fill="#fff"/><rect x="236.6" y="968.0" width="55.1" height="21.7" rx="2.2" fill="#00aba1"/><circle cx="253.5" cy="1007.2" r="11.6" fill="#e0dfeb"/><circle cx="253.5" cy="1007.2" r="9.6" fill="#555557"/><circle cx="305.5" cy="1007.2" r="11.6" fill="#e0dfeb"/><circle cx="305.5" cy="1007.2" r="9.6" fill="#555557"/><path d="M343.5 1054 Q342 1046 348 1041.5 Q352 1038.5 357 1039.5 Q360 1034.2 367 1034 Q373 1033.8 376 1037.3 Q381 1035.8 384 1039.5 Q388.5 1041 389.5 1046 Q392.5 1049.5 391.5 1054 Z" fill="#555557"/><path d="M340.6 1052.8 H394 Q396.2 1052.8 395.8 1055 L393.3 1082.5 V1086.5 H341 V1082.5 L338.8 1055 Q338.5 1052.8 340.6 1052.8 Z" fill="#00aba1"/><rect x="342.8" y="1086.5" width="48.9" height="11.1" fill="#555557"/><rect x="336.6" y="1077.0" width="3.6" height="13.0" rx="1.8" fill="#555557"/><rect x="394.3" y="1077.0" width="3.6" height="13.0" rx="1.8" fill="#555557"/><circle cx="355.9" cy="1102.0" r="7.6" fill="#dbd9e8"/><circle cx="355.9" cy="1102.0" r="6.2" fill="#555557"/><circle cx="380.0" cy="1102.0" r="7.6" fill="#dbd9e8"/><circle cx="380.0" cy="1102.0" r="6.2" fill="#555557"/><use href="#ship"/><g transform="translate(908.4 -379.7)"><use href="#ship"/></g><rect x="634.2" y="1198.4" width="86.6" height="7.4" rx="3" fill="#00aba1"/><path d="M635 1207.2 H720.3 L718.5 1257 Q718.3 1264.4 711 1264.4 H646 Q638.8 1264.4 638.6 1257 Z" fill="#555557"/><rect x="644.0" y="1262.0" width="5.4" height="9.8" rx="1.5" fill="#555557"/><rect x="707.0" y="1262.0" width="5.6" height="9.8" rx="1.5" fill="#555557"/><line x1="787.4" y1="1128.3" x2="791.0" y2="1125.3" stroke="#00aba1" stroke-width="4.3" stroke-linecap="round"/><line x1="800.8" y1="1131.1" x2="804.4" y2="1128.1" stroke="#00aba1" stroke-width="4.3" stroke-linecap="round"/><line x1="821.6" y1="1153.7" x2="825.2" y2="1150.7" stroke="#00aba1" stroke-width="4.3" stroke-linecap="round"/><line x1="822.5" y1="1166.7" x2="826.1" y2="1163.7" stroke="#00aba1" stroke-width="4.3" stroke-linecap="round"/><path d="M825.9 1123.4 Q830.4 1120.2 833 1123.2 Q835.4 1126.3 832 1129.5 L820.9 1140.2 L822.6 1181 Q822.8 1185 819.5 1185 Q816.9 1185 816.2 1181.6 L807.5 1152.4 L789.6 1166.4 L789.9 1176.2 Q790 1179.9 786.7 1179.9 Q784.2 1179.9 783.4 1176.6 L780.7 1168.6 L773 1165.4 Q770.4 1164.2 770.9 1162 Q771.6 1159.3 774.5 1159.6 L784.6 1161.1 L801.3 1145.2 L772 1131.7 Q769.4 1130.3 770.2 1128 Q771 1125.8 773.8 1126.2 L814.2 1134 Z" fill="#555557"/><rect x="827.2" y="1024.2" width="34.6" height="31.6" fill="#555557"/><path d="M864.6 1024.2 H928.5 Q931 1024.2 931.1 1026.8 L931.7 1033.3 Q932.6 1042.8 944 1042.9 L967.2 1043.1 Q978.3 1049 978.3 1055.8 H864.6 Z" fill="#555557"/><path d="M933.3 1026.1 L963.4 1040.9 H948 Q934.5 1040.9 933.3 1030.3 Z" fill="#00aba1"/><rect x="827.2" y="1058.1" width="34.6" height="8.8" fill="#00aba1"/><path d="M864.6 1058.1 H977.9 Q977 1067 953 1066.9 H864.6 Z" fill="#00aba1"/><rect x="833.0" y="1036.7" width="8.0" height="7.7" rx="2" fill="#00aba1"/><rect x="847.5" y="1029.1" width="8.4" height="22.9" rx="2" fill="#00aba1"/><rect x="870.3" y="1036.7" width="8.0" height="7.7" rx="2" fill="#00aba1"/><rect x="884.5" y="1036.7" width="8.0" height="7.7" rx="2" fill="#00aba1"/><rect x="898.2" y="1036.7" width="8.0" height="7.7" rx="2" fill="#00aba1"/><rect x="912.9" y="1029.1" width="8.4" height="22.9" rx="2" fill="#00aba1"/><circle cx="843.0" cy="1068.4" r="6.1" fill="#c9c7dd"/><circle cx="843.0" cy="1068.4" r="5.0" fill="#555557"/><circle cx="884.5" cy="1068.4" r="6.1" fill="#c9c7dd"/><circle cx="884.5" cy="1068.4" r="5.0" fill="#555557"/><circle cx="932.7" cy="1068.4" r="6.1" fill="#c9c7dd"/><circle cx="932.7" cy="1068.4" r="5.0" fill="#555557"/><rect x="828.0" y="1078.2" width="151.0" height="3.4" fill="#555557"/><rect x="828.0" y="1081.0" width="2.8" height="3.2" fill="#555557"/><rect x="834.7" y="1081.0" width="2.8" height="3.2" fill="#555557"/><rect x="841.5" y="1081.0" width="2.8" height="3.2" fill="#555557"/><rect x="848.2" y="1081.0" width="2.8" height="3.2" fill="#555557"/><rect x="854.9" y="1081.0" width="2.8" height="3.2" fill="#555557"/><rect x="861.7" y="1081.0" width="2.8" height="3.2" fill="#555557"/><rect x="868.4" y="1081.0" width="2.8" height="3.2" fill="#555557"/><rect x="875.1" y="1081.0" width="2.8" height="3.2" fill="#555557"/><rect x="881.8" y="1081.0" width="2.8" height="3.2" fill="#555557"/><rect x="888.6" y="1081.0" width="2.8" height="3.2" fill="#555557"/><rect x="895.3" y="1081.0" width="2.8" height="3.2" fill="#555557"/><rect x="902.0" y="1081.0" width="2.8" height="3.2" fill="#555557"/><rect x="908.8" y="1081.0" width="2.8" height="3.2" fill="#555557"/><rect x="915.5" y="1081.0" width="2.8" height="3.2" fill="#555557"/><rect x="922.2" y="1081.0" width="2.8" height="3.2" fill="#555557"/><rect x="929.0" y="1081.0" width="2.8" height="3.2" fill="#555557"/><rect x="935.7" y="1081.0" width="2.8" height="3.2" fill="#555557"/><rect x="942.4" y="1081.0" width="2.8" height="3.2" fill="#555557"/><rect x="949.1" y="1081.0" width="2.8" height="3.2" fill="#555557"/><rect x="955.9" y="1081.0" width="2.8" height="3.2" fill="#555557"/><rect x="962.6" y="1081.0" width="2.8" height="3.2" fill="#555557"/><rect x="969.3" y="1081.0" width="2.8" height="3.2" fill="#555557"/><rect x="976.1" y="1081.0" width="2.8" height="3.2" fill="#555557"/><use href="#bldg"/><g transform="translate(991.7 248)"><use href="#bldg"/></g><path d="M472.3 962.5 H430 A12.45 12.45 0 0 1 430 937.6 H449.5" fill="none" stroke="#555557" stroke-width="3.2" stroke-linecap="round"/><rect x="447.8" y="935.1" width="4.8" height="5.9" rx="1" fill="#555557"/><path d="M452 933.6 Q452 931.4 454.5 931.2 Q457.6 931 460 928.4 Q463 925 466.2 924.8 H478.3 V950.8 H466.2 Q463 950.6 460 947.2 Q457.6 944.6 454.5 944.4 Q452 944.2 452 942 Z" fill="#00aba1"/><rect x="478.1" y="922.6" width="4.2" height="30.5" rx="1.6" fill="#555557"/><rect x="481.5" y="929.1" width="11.4" height="3.8" rx="1.9" fill="#555557"/><rect x="481.5" y="942.5" width="11.4" height="3.8" rx="1.9" fill="#555557"/><path d="M1137 879 Q1137 878 1138 878 H1146.5 V874 Q1146.5 873 1147.5 873 H1167.8 Q1168.8 873 1168.8 874 V878 H1190.3 Q1191.3 878 1191.3 879 V912.2 H1199 V908.8 Q1199 907.8 1200 907.8 H1220.7 Q1221.7 907.8 1221.7 908.8 V912.2 H1241.5 Q1242.5 912.2 1242.5 913.2 V969 Q1242.5 970 1241.5 970 H1138 Q1137 970 1137 969 Z" fill="#555557"/><rect x="1145.9" y="886.1" width="9.3" height="9.2" fill="#fff"/><rect x="1159.5" y="886.1" width="9.3" height="9.2" fill="#fff"/><rect x="1173.2" y="886.1" width="9.3" height="9.2" fill="#fff"/><rect x="1145.9" y="902.9" width="9.3" height="9.2" fill="#fff"/><rect x="1159.5" y="902.9" width="9.3" height="9.2" fill="#fff"/><rect x="1173.2" y="902.9" width="9.3" height="9.2" fill="#fff"/><rect x="1145.9" y="920.0" width="9.3" height="9.2" fill="#fff"/><rect x="1159.5" y="920.0" width="9.3" height="9.2" fill="#fff"/><rect x="1173.2" y="920.0" width="9.3" height="9.2" fill="#fff"/><rect x="1145.9" y="936.7" width="9.3" height="9.2" fill="#fff"/><rect x="1159.5" y="936.7" width="9.3" height="9.2" fill="#fff"/><rect x="1173.2" y="936.7" width="9.3" height="9.2" fill="#fff"/><rect x="1159.5" y="954.0" width="9.3" height="9.2" fill="#fff"/><rect x="1173.2" y="954.0" width="9.3" height="9.2" fill="#fff"/><rect x="1196.5" y="920.0" width="9.3" height="9.2" fill="#fff"/><rect x="1210.2" y="920.0" width="9.3" height="9.2" fill="#fff"/><rect x="1224.0" y="920.0" width="9.3" height="9.2" fill="#fff"/><rect x="1196.5" y="936.7" width="9.3" height="9.2" fill="#fff"/><rect x="1210.2" y="936.7" width="9.3" height="9.2" fill="#fff"/><rect x="1224.0" y="936.7" width="9.3" height="9.2" fill="#fff"/><rect x="1196.5" y="954.0" width="9.3" height="9.2" fill="#fff"/><rect x="1210.2" y="954.0" width="9.3" height="9.2" fill="#fff"/><rect x="1224.0" y="954.0" width="9.3" height="9.2" fill="#fff"/><rect x="1145.0" y="954.0" width="11.0" height="16.0" fill="#00aba1"/><path d="M1121.5 1173.2 H1211.5 V1141.2 Q1211.5 1138.2 1214.5 1138.2 H1229 Q1233 1138.2 1234.8 1142 L1240 1153.5 Q1241 1155.8 1241 1158 V1181.8 Q1241 1184.8 1238 1184.8 H1121.5 Q1118.5 1184.8 1118.5 1181.8 V1176.2 Q1118.5 1173.2 1121.5 1173.2 Z" fill="#555557"/><path d="M1218.4 1144.3 H1227.5 Q1230 1144.3 1231 1146.6 L1235 1156 Q1235.5 1157.3 1235.5 1158.8 V1162.5 Q1235.5 1165 1233 1165 H1218.4 Q1215.9 1165 1215.9 1162.5 V1146.8 Q1215.9 1144.3 1218.4 1144.3 Z" fill="#fff"/><rect x="1118.5" y="1137.0" width="89.5" height="33.3" rx="3" fill="#00aba1"/><circle cx="1136.4" cy="1188.8" r="12.3" fill="#fff"/><circle cx="1136.4" cy="1188.8" r="10.3" fill="#555557"/><circle cx="1191.3" cy="1188.8" r="12.3" fill="#fff"/><circle cx="1191.3" cy="1188.8" r="10.3" fill="#555557"/><circle cx="1222.8" cy="1188.8" r="12.3" fill="#fff"/><circle cx="1222.8" cy="1188.8" r="10.3" fill="#555557"/><line x1="1538.6" y1="1123.8" x2="1571.2" y2="1112.1" stroke="#00aba1" stroke-width="10.3" stroke-linecap="round" stroke-linejoin="round" fill="none"/><line x1="1538.5" y1="1140.8" x2="1583.5" y2="1125" stroke="#00aba1" stroke-width="10.3" stroke-linecap="round" stroke-linejoin="round" fill="none"/><path d="M1584.6 1142.8 L1539.8 1160.2 Q1553 1161 1555 1178" stroke="#00aba1" stroke-width="10.3" stroke-linecap="round" stroke-linejoin="round" fill="none"/><path d="M1577.5 1160.5 Q1569.5 1163.5 1569.5 1178" stroke="#00aba1" stroke-width="10.3" stroke-linecap="round" stroke-linejoin="round" fill="none"/><path d="M1543 1179 H1578.5 Q1581 1179 1581 1181.5 V1196 Q1581 1202 1575 1202 H1572.6 V1208 Q1572.6 1223.2 1560.3 1223.2 Q1548 1223.2 1548 1208 V1202 H1546.5 Q1540.5 1202 1540.5 1196 V1181.5 Q1540.5 1179 1543 1179 Z" fill="#555557"/><rect x="1745.9" y="1163.1" width="14.1" height="8.9" rx="4" fill="#00aba1"/><rect x="1713.1" y="1167.6" width="79.7" height="11.4" rx="5.5" fill="#00aba1"/><path d="M1716.7 1182 H1789.3 L1786.6 1250 Q1786.2 1258.7 1777.5 1258.7 H1731 Q1722.4 1258.7 1722 1250 Z" fill="#555557"/><polygon points="1741.59,1207.59 1747.79,1197.79 1752.41,1204.14 1747.79,1211.17" fill="#fff" stroke="#fff" stroke-width="0.6" stroke-linejoin="round"/><polygon points="1748.76,1196.34 1756.90,1196.14 1758.62,1197.24 1761.59,1202.07 1766.00,1201.79 1763.52,1211.72 1753.31,1208.41 1755.38,1207.17" fill="#fff" stroke="#fff" stroke-width="0.6" stroke-linejoin="round"/><polygon points="1761.17,1215.17 1767.10,1211.86 1772.90,1220.69 1772.41,1222.21 1765.17,1222.28" fill="#fff" stroke="#fff" stroke-width="0.6" stroke-linejoin="round"/><polygon points="1772.62,1223.31 1768.97,1230.00 1767.59,1230.90 1760.48,1231.03 1759.79,1234.48 1752.41,1227.24 1759.66,1220.21 1760.21,1223.31" fill="#fff" stroke="#fff" stroke-width="0.6" stroke-linejoin="round"/><polygon points="1740.48,1224.14 1750.34,1223.86 1750.34,1231.03 1738.62,1231.03 1737.59,1229.79" fill="#fff" stroke="#fff" stroke-width="0.6" stroke-linejoin="round"/><polygon points="1736.76,1229.17 1732.41,1221.72 1732.41,1220.69 1735.86,1215.31 1733.45,1213.52 1743.79,1210.76 1746.28,1219.31 1743.79,1218.62 1739.10,1226.07" fill="#fff" stroke="#fff" stroke-width="0.6" stroke-linejoin="round"/><path d="M2017 988.4 H2083 L2089.7 1008 V1054.6 H2012.1 V1008 Z" fill="#555557"/><path d="M2014.7 988.4 H2020.3 L2017.7 1005.6 A5.1 5.1 0 0 1 2007.5 1005.6 Z" fill="#00aba1"/><path d="M2025.6 988.4 H2031.2 L2031.1 1005.6 A5.1 5.1 0 0 1 2020.9 1005.6 Z" fill="#00aba1"/><path d="M2035.9 988.4 H2041.5 L2043.8 1005.6 A5.1 5.1 0 0 1 2033.6 1005.6 Z" fill="#00aba1"/><path d="M2046.9 988.4 H2052.5 L2055.8 1005.6 A5.1 5.1 0 0 1 2045.6 1005.6 Z" fill="#00aba1"/><path d="M2057.8 988.4 H2063.4 L2067.8 1005.6 A5.1 5.1 0 0 1 2057.6 1005.6 Z" fill="#00aba1"/><path d="M2068.4 988.4 H2074.0 L2080.6 1005.6 A5.1 5.1 0 0 1 2070.4 1005.6 Z" fill="#00aba1"/><path d="M2079.0 988.4 H2084.6 L2094.0 1005.6 A5.1 5.1 0 0 1 2083.8 1005.6 Z" fill="#00aba1"/><rect x="2015.1" y="1013.8" width="45.1" height="25.2" rx="1.5" fill="#00aba1"/><rect x="2017.1" y="1016.4" width="19.1" height="20.3" fill="#fff"/><rect x="2038.7" y="1016.4" width="19.4" height="20.3" fill="#fff"/><path d="M2063 1015.3 Q2063 1013.8 2064.5 1013.8 H2083.4 Q2084.9 1013.8 2084.9 1015.3 V1054.6 H2063 Z" fill="#00aba1"/><rect x="2064.9" y="1016.7" width="8.4" height="8.0" fill="#fff"/><rect x="2064.9" y="1026.6" width="8.4" height="7.7" fill="#fff"/><rect x="2075.0" y="1016.7" width="8.2" height="8.0" fill="#fff"/><rect x="2075.0" y="1026.6" width="8.2" height="7.7" fill="#fff"/><rect x="1998.6" y="859.9" width="111.2" height="45.8" rx="3.5" fill="#555557"/><rect x="2001.8" y="863.1" width="104.8" height="39.4" rx="2" fill="none" stroke="#00aba1" stroke-width="1"/><rect x="2013.2" y="871.7" width="113.7" height="45.0" rx="4.5" fill="#00aba1"/><rect x="2016.8" y="875.3" width="106.5" height="37.8" rx="2.5" fill="none" stroke="#555557" stroke-width="1"/><text x="2070" y="903" font-size="25" font-weight="bold" text-anchor="middle" fill="#555557">$</text></g>
</svg></body></html>
